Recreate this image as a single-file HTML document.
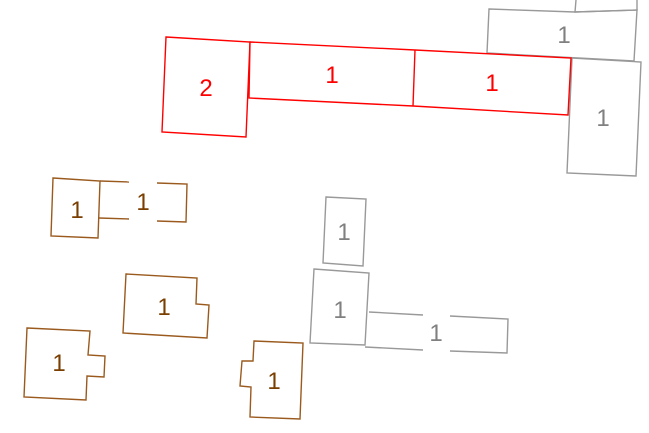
<!DOCTYPE html>
<html><head><meta charset="utf-8"><style>
html,body{margin:0;padding:0;background:#fff;}
svg{display:block;}
text{font-family:"Liberation Sans",sans-serif;font-size:24px;text-anchor:middle;}
</style></head><body>
<svg width="649" height="433" viewBox="0 0 649 433" xmlns="http://www.w3.org/2000/svg">
<g fill="none" stroke="#999" stroke-width="1.4">
<polyline points="576,0 575,12 637,10 637,0"/>
<polygon points="489,9 575,12 637,10 634,61 487,53"/>
<polygon points="572,58 641,62 636,176 567,173"/>
<polygon points="326,197 366,199 363,266 323,263"/>
<polygon points="314,269 369,273 365,345 310,343"/>
<polyline points="369,312 423,315"/>
<polyline points="450,316 508,319 507,353 450,351"/>
<polyline points="365,347 423,350"/>
</g>
<g fill="#fff" stroke="#f00" stroke-width="1.4">
<polygon points="166,37 250,42 246,137 162,132"/>
<polygon points="250,42 415,50 571,58 568,115 413,106 249,98"/>
<line x1="415" y1="50" x2="413" y2="106"/>
</g>
<g fill="none" stroke="#9a5a1e" stroke-width="1.4">
<polygon points="53,178 100,181 98,238 51,236"/>
<polyline points="100,181 129,182"/>
<polyline points="157,183 187,184 186,222 157,221"/>
<polyline points="129,219 99,218"/>
<polygon points="126,274 197,278 196,304 209,305 207,338 123,333"/>
<polygon points="27,328 90,331 88,355 105,356 104,377 87,376 86,400 24,397"/>
<polygon points="254,341 303,343 300,419 250,417 251,387 240,386 242,361 253,361"/>
</g>
<g fill="#f00"><text x="206" y="96">2</text><text x="332" y="83">1</text><text x="492" y="91">1</text></g>
<g fill="#808080"><text x="564" y="43">1</text><text x="603" y="126">1</text><text x="344" y="240">1</text><text x="340" y="318">1</text><text x="436" y="341">1</text></g>
<g fill="#7a3f00"><text x="77" y="218">1</text><text x="143" y="210">1</text><text x="164" y="315">1</text><text x="59" y="371">1</text><text x="274" y="389">1</text></g>
</svg>
</body></html>
